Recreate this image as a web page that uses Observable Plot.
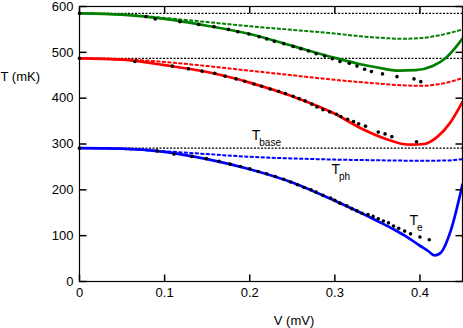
<!DOCTYPE html>
<html>
<head>
<meta charset="utf-8">
<script src="https://cdn.jsdelivr.net/npm/d3@7"></script>
<script src="https://cdn.jsdelivr.net/npm/@observablehq/plot@0.6"></script>
<style>
  html, body { margin: 0; padding: 0; background: #fff; }
  #chart { width: 463px; height: 328px; }
</style>
</head>
<body>
<div id="chart"></div>
<script>
// ---- tick values / labels ----
const xTicks = [0, 0.1, 0.2, 0.3, 0.4];
const xTickLabels = ["0", "0.1", "0.2", "0.3", "0.4"];
const yTicks = [0, 100, 200, 300, 400, 500, 600];

// ---- base temperatures (dotted lines) ----
const tBase = [585, 487, 291];

// ---- colours per series ----
const seriesNames = ["green", "red", "blue"];
const seriesColors = ["#1f7a2a", "#e3201e", "#1c1cd0"];

// ---- Te (solid) ----
const greenTeV = [0, 0.05, 0.1, 0.15, 0.2, 0.25, 0.3, 0.33, 0.35, 0.375, 0.395, 0.415, 0.43, 0.45];
const greenTeT = [585, 582, 573, 558, 540, 514, 488, 474, 467, 460, 461, 470, 487, 530];
const redTeV = [0, 0.05, 0.1, 0.15, 0.2, 0.25, 0.3, 0.33, 0.36, 0.38, 0.39, 0.405, 0.42, 0.435, 0.45];
const redTeT = [487, 484, 472, 457, 434, 404, 366, 335, 311, 300, 298.5, 300, 315, 345, 392];
const blueTeV = [0, 0.05, 0.1, 0.15, 0.2, 0.25, 0.3, 0.35, 0.37, 0.385, 0.4, 0.41, 0.417, 0.424, 0.436, 0.45];
const blueTeT = [291, 290, 283, 267, 245, 216, 176, 132, 113, 97, 78, 66, 57, 62, 110, 212];

// ---- Tph (dashed) ----
const greenPhV = [0, 0.05, 0.1, 0.15, 0.2, 0.25, 0.3, 0.33, 0.36, 0.38, 0.4, 0.42, 0.45];
const greenPhT = [585, 583, 575, 566, 557, 549, 541, 535, 531, 529.5, 531, 536, 550];
const redPhV = [0, 0.05, 0.1, 0.15, 0.2, 0.25, 0.3, 0.35, 0.38, 0.4, 0.42, 0.44, 0.45];
const redPhT = [487, 485, 479, 470, 460, 450, 440, 432, 428, 427, 430, 438, 444];
const bluePhV = [0, 0.05, 0.1, 0.15, 0.2, 0.25, 0.3, 0.35, 0.4, 0.43, 0.45];
const bluePhT = [291, 289, 284, 278, 272, 268.5, 266, 264.5, 263.5, 264, 267];

// ---- measured points (black dots) ----
const greenDotV = [0, 0.078, 0.089, 0.118, 0.140, 0.158, 0.175, 0.186, 0.199, 0.211, 0.220, 0.229, 0.240, 0.251, 0.260, 0.269, 0.278, 0.288, 0.297, 0.306, 0.317, 0.326, 0.335, 0.343, 0.356, 0.373, 0.393, 0.401];
const greenDotT = [585, 578, 573, 567, 561, 556, 550, 545, 540, 534, 529, 524, 519, 513, 508, 503, 497, 492, 486, 480, 476, 470, 463, 458, 453, 447, 442, 436];
const redDotV = [0, 0.065, 0.109, 0.128, 0.144, 0.159, 0.171, 0.184, 0.194, 0.205, 0.214, 0.224, 0.234, 0.242, 0.251, 0.258, 0.265, 0.273, 0.279, 0.286, 0.294, 0.302, 0.307, 0.315, 0.322, 0.328, 0.336, 0.351, 0.359, 0.367, 0.396];
const redDotT = [487, 480, 470, 464, 459, 454, 448, 442, 437, 431, 426, 420, 415, 410, 404, 399, 394, 387, 381, 375, 370, 365, 360, 354, 349, 344, 339, 326, 322, 316, 305];
const blueDotV = [0, 0.091, 0.111, 0.132, 0.149, 0.164, 0.177, 0.189, 0.200, 0.210, 0.220, 0.230, 0.240, 0.248, 0.256, 0.264, 0.272, 0.278, 0.286, 0.295, 0.300, 0.306, 0.314, 0.320, 0.326, 0.332, 0.339, 0.345, 0.351, 0.357, 0.363, 0.369, 0.375, 0.382, 0.389, 0.400, 0.411];
const blueDotT = [291, 285, 278, 273, 268, 262, 256, 251, 246, 240, 235, 229, 223, 217, 211, 205, 200, 195, 188, 182, 177, 171, 165, 159, 154, 149, 146, 142, 137, 132, 128, 121, 116, 110, 104, 97, 91];

// ---- annotations ----
const annMain = ["T", "T", "T"];
const annSub = ["base", "ph", "e"];
const annV = [0.2024, 0.2961, 0.3878];
const annT = [319, 245, 134];

// ---- build tidy tables ----
function tidy(name, vs, ts) { return vs.map((v, i) => ({series: name, V: v, T: ts[i]})); }
const teData = [
  ...tidy("green", greenTeV, greenTeT),
  ...tidy("red", redTeV, redTeT),
  ...tidy("blue", blueTeV, blueTeT)
];
const phData = [
  ...tidy("green", greenPhV, greenPhT),
  ...tidy("red", redPhV, redPhT),
  ...tidy("blue", bluePhV, bluePhT)
];
const dotData = [
  ...tidy("green", greenDotV, greenDotT),
  ...tidy("red", redDotV, redDotT),
  ...tidy("blue", blueDotV, blueDotT)
];
const ann = annMain.map((m, i) => ({main: m, sub: annSub[i], V: annV[i], T: annT[i]}));

const font = "'Liberation Sans', Arial, Helvetica, sans-serif";
const W = 463, H = 328, ML = 79, MR = 1, MT = 6, MB = 47;
const TICK = 7;
const frameW = W - ML - MR, frameH = H - MT - MB;
const xDom = [0, 0.45], yDom = [0, 600];
const xTickLen = (xDom[1] - xDom[0]) * TICK / frameW;
const yTickLen = (yDom[1] - yDom[0]) * TICK / frameH;

// inward tick segments derived from the tick arrays (two points each)
const tickSegs = [];
xTicks.forEach((v, i) => {
  tickSegs.push({id: "b" + i, V: v, T: yDom[0]}, {id: "b" + i, V: v, T: yDom[0] + yTickLen});
  tickSegs.push({id: "t" + i, V: v, T: yDom[1] - yTickLen}, {id: "t" + i, V: v, T: yDom[1]});
});
yTicks.forEach((t, i) => {
  tickSegs.push({id: "l" + i, V: xDom[0], T: t}, {id: "l" + i, V: xDom[0] + xTickLen, T: t});
  tickSegs.push({id: "r" + i, V: xDom[1] - xTickLen, T: t}, {id: "r" + i, V: xDom[1], T: t});
});

const chart = Plot.plot({
  width: W,
  height: H,
  marginLeft: ML,
  marginRight: MR,
  marginTop: MT,
  marginBottom: MB,
  style: {fontFamily: font, fontSize: "13px", background: "#fff", color: "#000", overflow: "visible"},
  x: {domain: xDom},
  y: {domain: yDom},
  color: {domain: seriesNames, range: seriesColors},
  marks: [
    Plot.ruleY(tBase, {stroke: "#000", strokeWidth: 1.2, strokeDasharray: "2,1.5", strokeLinecap: "butt"}),
    Plot.line(phData, {x: "V", y: "T", z: "series", stroke: "series", strokeWidth: 2, strokeDasharray: "4,1.5", strokeLinecap: "butt", curve: "monotone-x"}),
    Plot.line(teData, {x: "V", y: "T", z: "series", stroke: "series", strokeWidth: 2.7, curve: "monotone-x"}),
    Plot.dot(dotData, {x: "V", y: "T", r: 1.8, fill: "#000", stroke: null}),
    Plot.text(ann, {x: "V", y: "T", text: "main", textAnchor: "start", lineAnchor: "middle", fontSize: 14, fill: "#000"}),
    Plot.text(ann, {x: "V", y: "T", text: "sub", textAnchor: "start", lineAnchor: "middle", fontSize: 10, dx: 7.5, dy: 8, fill: "#000"}),
    Plot.line(tickSegs, {x: "V", y: "T", z: "id", stroke: "#000", strokeWidth: 1.5, strokeLinecap: "butt"}),
    Plot.axisX({anchor: "bottom", ticks: xTicks, tickSize: 0, tickPadding: 6, tickFormat: (d, i) => xTickLabels[i], label: null, fontSize: 13}),
    Plot.axisY({anchor: "left", ticks: yTicks, tickSize: 0, tickPadding: 6, tickFormat: d => String(d), label: null, fontSize: 13}),
    Plot.frame({stroke: "#000", strokeWidth: 1.2}),
    Plot.text(["T (mK)"], {frameAnchor: "left", dx: -79, dy: -67, textAnchor: "start", lineAnchor: "middle", fontSize: 13, fill: "#000"}),
    Plot.text(["V (mV)"], {frameAnchor: "bottom", dx: 23, dy: 39, textAnchor: "middle", lineAnchor: "middle", fontSize: 13, fill: "#000"})
  ]
});
document.getElementById("chart").appendChild(chart);
</script>
</body>
</html>
